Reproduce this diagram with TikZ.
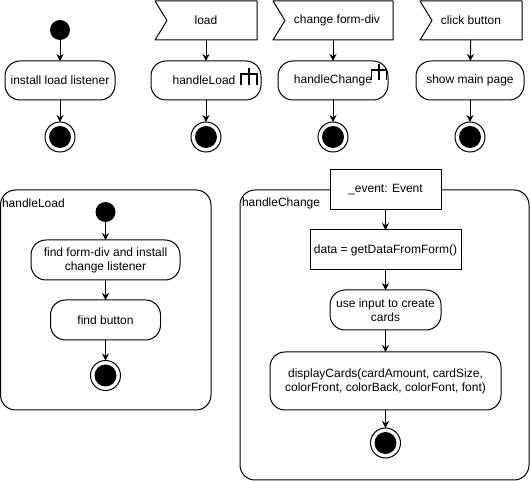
\documentclass[tikz,border=0pt]{standalone}
\usepackage{fontspec}
\setmainfont{Liberation Sans}
\usetikzlibrary{arrows.meta}

\begin{document}
\begin{tikzpicture}[x=1pt,y=-1pt,
  every node/.style={font=\fontsize{12}{14}\selectfont,align=center,inner sep=0pt,outer sep=0pt},
  activity/.style={draw=drawColor,line width=1pt,fill=fillColor,rounded corners=15pt,minimum height=39pt},
  plainbox/.style={draw=drawColor,line width=1pt,fill=fillColor,minimum height=40pt},
  eventbox/.style={minimum height=39pt},
  eventline/.style={draw=drawColor,line width=1pt,line join=round},
  startdot/.style={circle,fill=drawColor,minimum size=20pt},
  enddot/.style={circle,draw=drawColor,line width=1pt,fill=fillColor,minimum size=30pt,
    path picture={\fill[drawColor] (path picture bounding box.center) circle (11pt);}},
  flow/.style={draw=drawColor,line width=1pt,-{Stealth[length=7pt,width=7pt]}},
  swimframe/.style={draw=drawColor,line width=1pt,fill=fillColor,rounded corners=15pt},
  rakeicon/.style={draw=drawColor,line width=1.5pt}]
\definecolor{fillColor}{RGB}{255,255,255}
\definecolor{drawColor}{RGB}{0,0,0}
\path[use as bounding box,fill=fillColor] (0,0) rectangle (531,481);

\begin{scope}
\node[startdot] (start1) at ( 60.0, 30.0) {};
\node[activity,minimum width=110pt] (install) at ( 60.0, 80.5) {install load listener};
\node[enddot] (end1) at ( 60.0,137.0) {};

\node[eventbox,minimum width=102pt] (load) at (206.0, 20.5) {load};
\path[eventline] (load.north west) -- (load.north east) -- (load.south east) -- (load.south west) -- ([xshift=12pt]load.west) -- cycle;
\node[activity,minimum width=110pt] (handleload) at (206.0, 80.5) {handleLoad\hspace{4pt}};
\node[enddot] (end2) at (206.0,137.0) {};

\node[eventbox,minimum width=120pt] (change) at (333.0, 20.5) {\hspace{8pt}change form-div};
\path[eventline] (change.north west) -- (change.north east) -- (change.south east) -- (change.south west) -- ([xshift=12pt]change.west) -- cycle;
\node[activity,minimum width=110pt] (handlechange) at (333.0, 80.5) {handleChange};
\node[enddot] (end3) at (333.0,137.0) {};

\node[eventbox,minimum width=102pt] (click) at (471.0, 20.5) {click button};
\path[eventline] (click.north west) -- (click.north east) -- (click.south east) -- (click.south west) -- ([xshift=12pt]click.west) -- cycle;
\node[activity,minimum width=108pt] (showmain) at (470.0, 80.5) {show main page};
\node[enddot] (end4) at (470.0,137.0) {};

\path[rakeicon] (249,68) -- (249,85) (241,85) -- (241,74) -- (257,74) -- (257,85);
\path[rakeicon] (379,64) -- (379,80) (371.5,80) -- (371.5,70) -- (386.5,70) -- (386.5,80);

\path[flow] (start1) -- (install);
\path[flow] (install) -- (end1);
\path[flow] (load) -- (handleload);
\path[flow] (handleload) -- (end2);
\path[flow] (change) -- (handlechange);
\path[flow] (handlechange) -- (end3);
\path[flow] (click) -- (showmain);
\path[flow] (showmain) -- (end4);
\end{scope}

\begin{scope}
\path[swimframe] (  0.5,190.0) rectangle (211.0,410.0);
\node[anchor=west] (loadlabel) at (  2.0,203.0) {handleLoad};

\node[startdot] (start5) at (105.5,212.0) {};
\node[activity,minimum width=149pt,minimum height=40pt] (findform) at (105.5,260.0) {find form-div and install\\change listener};
\node[activity,minimum width=110pt,minimum height=40pt] (findbutton) at (105.5,320.0) {find button};
\node[enddot] (end5) at (105.5,375.5) {};

\path[flow] (start5) -- (findform);
\path[flow] (findform) -- (findbutton);
\path[flow] (findbutton) -- (end5);
\end{scope}

\begin{scope}
\path[swimframe] (240.0,190.0) rectangle (529.0,480.0);
\node[anchor=west] (changelabel) at (242.0,203.0) {handleChange};

\node[plainbox,minimum width=111pt] (event) at (385.5,190.0) {\_event: Event};
\node[plainbox,minimum width=151pt] (getdata) at (385.5,250.0) {data = getDataFromForm()};
\node[activity,minimum width=111pt,minimum height=40pt] (createcards) at (385.5,310.0) {use input to create\\cards};
\node[activity,minimum width=231pt,minimum height=58pt] (display) at (385.5,381.0) {displayCards(cardAmount, cardSize,\\colorFront, colorBack, colorFont, font)};
\node[enddot] (end6) at (385.5,443.0) {};

\path[flow] (event) -- (getdata);
\path[flow] (getdata) -- (createcards);
\path[flow] (createcards) -- (display);
\path[flow] (display) -- (end6);
\end{scope}
\end{tikzpicture}
\end{document}
